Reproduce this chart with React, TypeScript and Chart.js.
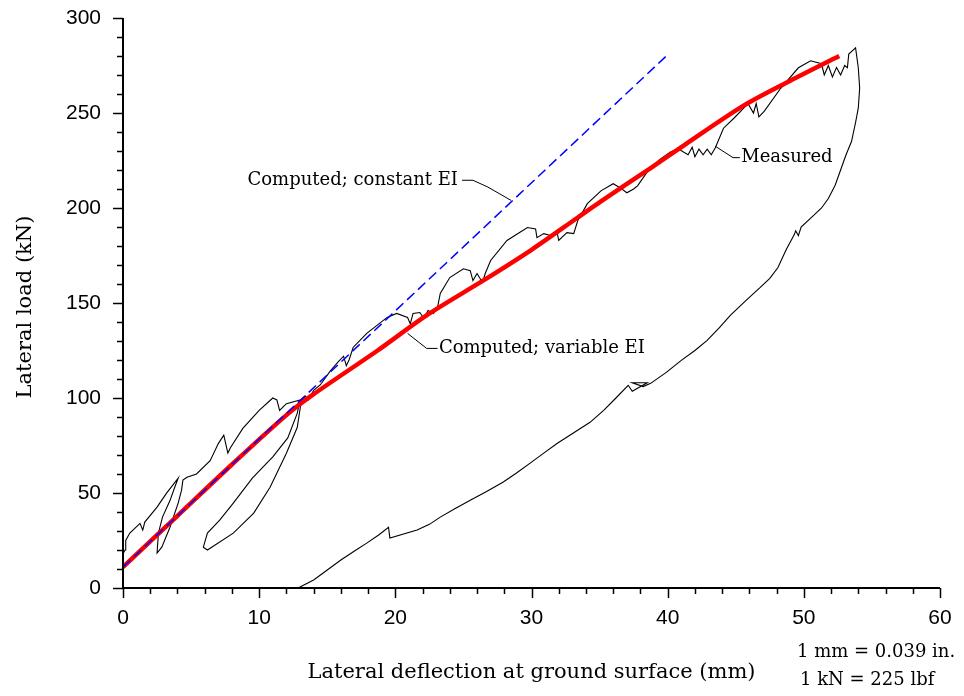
import React, { useEffect, useRef } from "react";
import { Chart, registerables } from "chart.js";

Chart.register(...registerables);

// ---- Data ----
const measuredX = [
  0, 0.15, 0.2, 0.5, 1.25, 1.45, 1.6, 2.5, 3.2, 4.05,
  3.8, 3.45, 2.9, 2.6, 2.5,
  2.85, 3.45, 4.05, 4.3, 4.4, 4.7, 5.4, 6.4, 7.0, 7.4, 7.7, 7.9, 8.8, 10.0, 11.0, 11.3, 11.5, 12.0, 13.0,
  12.8, 12.1, 11.0, 9.85, 9.5, 8.1, 7.1, 6.2, 5.9,
  6.2, 8.1, 9.6, 10.8, 12.0, 12.8, 13.1, 13.4, 13.6, 14.0, 14.5, 15.2, 15.8, 16.2, 16.4, 16.6, 16.9,
  17.9, 19.4, 20.1, 20.9, 21.1, 21.3, 21.8, 22.1, 22.4, 22.8, 23.1, 23.3, 24.0, 25.0, 25.5, 25.7, 26.0, 26.4, 26.6,
  27.0, 28.2, 29.7, 30.3, 30.4, 30.9, 31.4, 31.9, 32.0, 32.6, 33.1, 33.4, 34.1, 35.1, 36.0, 36.5, 37.0, 37.5, 37.8,
  38.5, 39.4, 40.2, 40.8, 41.5, 41.8, 42.0, 42.3, 42.6, 42.9, 43.2, 43.5, 44.1, 44.9, 45.9, 46.3, 46.5, 46.7, 47.1,
  48.3, 49.6, 50.5, 51.3, 51.5, 51.8, 52.1, 52.4, 52.7, 53.0, 53.2, 53.3, 53.8, 54.0, 54.1, 54.0,
  53.8, 53.5, 53.1, 52.7, 52.3, 51.8, 51.3, 50.7, 49.8, 49.6, 49.4, 49.3, 48.7, 48.1, 47.5, 46.8, 45.7, 44.6,
  43.8, 42.9, 42.0, 41.0, 39.9, 38.75, 38.2, 37.4, 38.5, 37.4, 37.1,
  36.2, 35.3, 34.3, 33.1, 31.9, 30.9, 29.9, 28.9, 27.9, 26.7, 25.5, 24.4, 23.3, 22.5, 21.6, 19.6, 19.5,
  18.8, 17.9, 17.0, 16.0, 15.0, 14.0, 13.0, 12.8,
];
const measuredY = [
  18, 20, 25, 28.9, 34, 30.5, 34.7, 42.6, 49.9, 57.8,
  53, 46, 37.3, 28.9, 18.4,
  21.5, 32, 44.7, 51.5, 56.8, 58.3, 60, 67, 76, 80.4, 71, 74, 84, 93.5, 100, 99, 93.5, 97, 99,
  92, 79, 69, 60.4, 57.8, 44.7, 35.7, 28.9, 21.5,
  20, 28.9, 39.4, 53, 70.9, 84.6, 98.8, 101, 99, 104, 107, 114, 119, 122, 117, 120, 126.6,
  134, 142.4, 144.5, 142.4, 139, 144.5, 145, 142, 146, 144.5, 147.7, 155, 163.4, 168, 167, 161.8, 165.5, 160.8, 165.5,
  172.4, 182.9, 189.7, 189, 184.4, 186.5, 185.5, 186.5, 182.9, 187, 186.5, 193.4, 202.3, 209, 212.8, 210.7, 208, 210, 211.8,
  219, 225.5, 229.5, 231, 228, 232, 227, 231, 228, 231, 228, 231.7, 242, 247.5, 254.9, 250, 255, 248, 251,
  263, 273.8, 277.5, 275.9, 270, 275, 269, 274, 270, 275, 273.8, 281, 284.3, 273.8, 263, 252.7,
  245, 235, 228, 220, 212, 205, 200, 196, 190, 185.5, 188, 186, 178, 168.7, 163, 158.2, 151, 143.5,
  137, 130.3, 125, 119.8, 113.5, 107.7, 106, 108, 108, 103.5, 106.7,
  100, 93.5, 87.2, 81.7, 76.2, 71, 65.7, 60.5, 55.7, 50.8, 46.2, 41.8, 37.3, 33.5, 30.5, 26.3, 32,
  28, 23.6, 19.5, 14.7, 9.5, 4.2, 0.5, 0,
];

const variableEIX = [0, 4, 8, 12, 14, 18.7, 22.4, 26.5, 30, 33.4, 35.1, 38.75, 41.2, 45.6, 49, 52.6];
const variableEIY = [11, 38, 65, 91, 102, 125, 144, 162, 178, 195, 203.5, 221, 233, 254, 267, 280];

const constantEIX = [0, 39.9];
const constantEIY = [11, 280];

const xMin = 0, xMax = 60, xMajor = 10, xMinor = 2;
const yMin = 0, yMax = 300, yMajor = 50, yMinor = 10;

const xTitle = "Lateral deflection at ground surface (mm)";
const yTitle = "Lateral load (kN)";
const unitNotes = ["1 mm = 0.039 in.", "1 kN = 225 lbf"];

const annotationLabels = [
  { text: "Computed; constant EI", x: 24.6, y: 214.4, align: "right",
    leader: [[24.9, 214.6], [25.7, 214.6], [26.8, 211], [28.5, 204]] },
  { text: "Measured", x: 45.4, y: 226.5, align: "left",
    leader: [[43.5, 232.5], [44.8, 226.5], [45.3, 226.5]] },
  { text: "Computed; variable EI", x: 23.2, y: 126, align: "left",
    leader: [[20.9, 134], [22.3, 126.1], [23.1, 126.1]] },
];

const serif = "'DejaVu Serif', 'Liberation Serif', serif";

const toPts = (xs: number[], ys: number[]) => xs.map((x, i) => ({ x, y: ys[i] }));

const zeroPad = (s: any) => {
  s.paddingTop = 0;
  s.paddingBottom = 0;
  s.paddingLeft = 0;
  s.paddingRight = 0;
};

const decorPlugin = {
  id: "decor",
  afterDatasetsDraw(chart: any) {
    const { ctx, chartArea } = chart;
    const xs = chart.scales.x;
    const ys = chart.scales.y;
    ctx.save();
    ctx.strokeStyle = "#000";
    ctx.fillStyle = "#000";
    // axis lines
    ctx.lineWidth = 2;
    ctx.beginPath();
    ctx.moveTo(chartArea.left, chartArea.top);
    ctx.lineTo(chartArea.left, chartArea.bottom);
    ctx.lineTo(chartArea.right, chartArea.bottom);
    ctx.stroke();
    // ticks
    ctx.lineWidth = 1.5;
    ctx.beginPath();
    for (let v = xMin; v <= xMax + 1e-9; v += xMinor) {
      const px = Math.round(xs.getPixelForValue(v)) + 0.5;
      const major = Math.abs(v % xMajor) < 1e-9;
      ctx.moveTo(px, chartArea.bottom);
      ctx.lineTo(px, chartArea.bottom + (major ? 10 : 6));
    }
    for (let v = yMin; v <= yMax + 1e-9; v += yMinor) {
      const py = Math.round(ys.getPixelForValue(v)) + 0.5;
      const major = Math.abs(v % yMajor) < 1e-9;
      ctx.moveTo(chartArea.left, py);
      ctx.lineTo(chartArea.left - (major ? 10 : 6), py);
    }
    ctx.stroke();

    // annotations with leaders
    ctx.lineWidth = 1;
    ctx.font = `18px ${serif}`;
    ctx.textBaseline = "middle";
    for (const a of annotationLabels) {
      ctx.beginPath();
      a.leader.forEach((p, i) => {
        const px = xs.getPixelForValue(p[0]);
        const py = ys.getPixelForValue(p[1]);
        if (i === 0) ctx.moveTo(px, py);
        else ctx.lineTo(px, py);
      });
      ctx.stroke();
      ctx.textAlign = a.align as CanvasTextAlign;
      ctx.fillText(a.text, xs.getPixelForValue(a.x), ys.getPixelForValue(a.y));
    }

    // axis titles
    ctx.font = `21px ${serif}`;
    ctx.textAlign = "center";
    ctx.fillText(xTitle, (chartArea.left + chartArea.right) / 2, 673);
    ctx.save();
    ctx.translate(26, (chartArea.top + chartArea.bottom) / 2 + 4);
    ctx.rotate(-Math.PI / 2);
    ctx.fillText(yTitle, 0, 0);
    ctx.restore();

    // unit notes
    ctx.font = `18px ${serif}`;
    ctx.textAlign = "left";
    ctx.fillText(unitNotes[0], 797, 652);
    ctx.fillText(unitNotes[1], 800, 680);
    ctx.restore();
  },
};

export default function App() {
  const ref = useRef<HTMLCanvasElement>(null);
  useEffect(() => {
    if (!ref.current) return;
    const chart = new Chart(ref.current, {
      type: "scatter",
      data: {
        datasets: [
          {
            label: "Computed; constant EI",
            data: toPts(constantEIX, constantEIY),
            showLine: true,
            borderColor: "#0000ff",
            borderWidth: 1.5,
            borderDash: [10, 5],
            pointRadius: 0,
            fill: false,
          },
          {
            label: "Computed; variable EI",
            data: toPts(variableEIX, variableEIY),
            showLine: true,
            borderColor: "#ff0000",
            borderWidth: 4.5,
            pointRadius: 0,
            tension: 0.3,
            fill: false,
          },
          {
            label: "Measured",
            data: toPts(measuredX, measuredY),
            showLine: true,
            borderColor: "#000000",
            borderWidth: 1.1,
            pointRadius: 0,
            fill: false,
          },
        ],
      },
      options: {
        responsive: false,
        animation: false,
        devicePixelRatio: 1,
        layout: { padding: { top: 18, right: 24, left: 0, bottom: 0 } },
        plugins: { legend: { display: false }, tooltip: { enabled: false } },
        scales: {
          x: {
            type: "linear",
            min: xMin,
            max: xMax,
            grid: { display: false },
            border: { display: false },
            ticks: {
              stepSize: xMajor,
              color: "#000",
              padding: 10,
              font: { family: "'Liberation Sans Narrow', 'Liberation Sans', sans-serif", size: 21 },
              maxRotation: 0,
            },
            afterFit: (s: any) => { s.height = 108; zeroPad(s); },
          },
          y: {
            type: "linear",
            min: yMin,
            max: yMax,
            grid: { display: false },
            border: { display: false },
            ticks: {
              stepSize: yMajor,
              color: "#000",
              padding: 14,
              font: { family: "'Liberation Sans', sans-serif", size: 21 },
            },
            afterFit: (s: any) => { s.width = 123; zeroPad(s); },
          },
        },
      },
      plugins: [decorPlugin],
    });
    return () => chart.destroy();
  }, []);
  return (
    <div style={{ position: "absolute", left: 0, top: 0, width: 964, height: 696, background: "#fff" }}>
      <canvas ref={ref} width={964} height={696} />
    </div>
  );
}
